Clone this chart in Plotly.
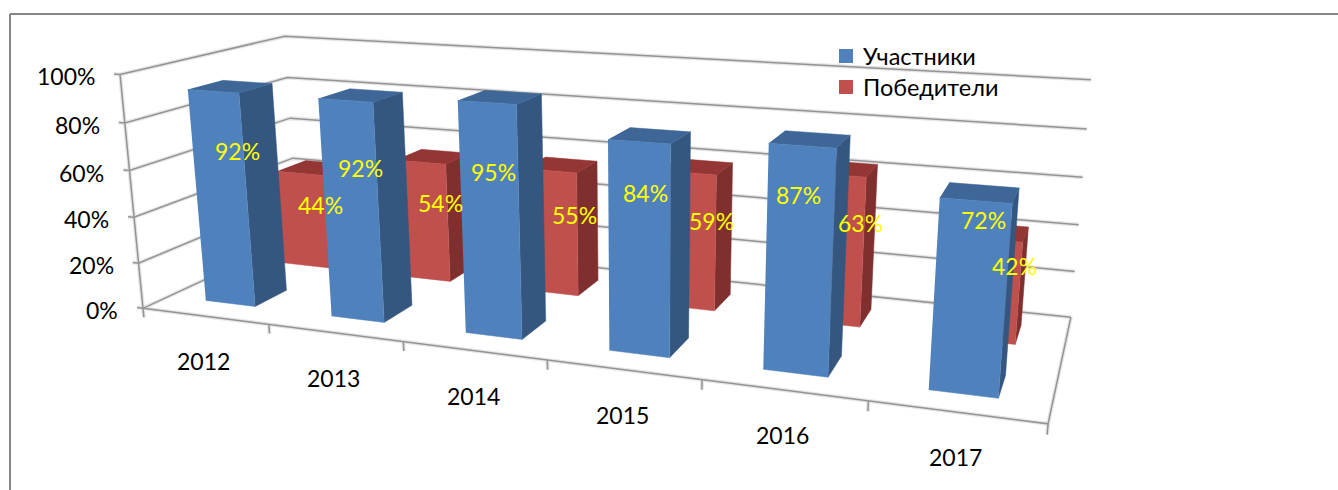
import numpy as np
import plotly.graph_objects as go

# ---- data ----
years = ["2012", "2013", "2014", "2015", "2016", "2017"]
participants = [92, 92, 95, 84, 87, 72]
winners = [44, 54, 55, 59, 63, 42]
y_ticks = [0, 20, 40, 60, 80, 100]
series_names = ["Участники", "Победители"]

# ---- label placement (pixels on the page) ----
participant_label_x = [237, 360, 493, 645, 798, 983]
participant_label_y = [151, 168, 172, 193, 195, 220]
winner_label_x = [320, 440, 574, 711, 860, 1014]
winner_label_y = [205, 203, 215, 221, 223, 266]
legend_swatch_x = 846
legend_text_x = 861
legend_row_y = [56, 87]

# ---- styles ----
W, H = 1338, 490
FONT = "Lato"
BLUE = dict(front="#4F81BD", side="#34567F", top="#3E6797")
RED = dict(front="#C0504D", side="#7F302E", top="#943634")
GRID = "#949494"
SHADOW = "#E6E6E6"
FRAME = "#868686"
BAR_WIDTH = 0.4  # share of a category
BLUE_ROW = (0.15, 0.35)
RED_ROW = (0.65, 0.85)

# ---- perspective camera calibrated on the chart box: (X, Y, Z) -> page pixel ----
calibration = [
    (0, 0, 0, 143, 308), (1, 0, 0, 1048, 423), (1, 1, 0, 1071, 317), (0, 1, 0, 300, 236),
    (0, 0, 1, 122, 75), (0, 1, 1, 285, 37), (1, 1, 1, 1092, 79),
    (0, 0, .2, 138, 263), (0, 0, .4, 133, 217), (0, 0, .6, 130, 169), (0, 0, .8, 124, 123),
    (1, 1, .2, 1074.5, 272), (1, 1, .4, 1078.7, 226), (1, 1, .6, 1082, 177), (1, 1, .8, 1086.5, 129),
    (0, 1, .8, 287, 78), (0, 1, .6, 288, 118), (0, 1, .4, 293, 157),
    (1 / 6, 0, 0, 269, 326), (2 / 6, 0, 0, 403, 343), (5 / 6, 0, 0, 868.6, 400),
]


def solve_camera(rows):
    m = []
    for X, Y, Z, x, y in rows:
        x, y = x / 1000, y / 1000
        m.append([X, Y, Z, 1, 0, 0, 0, 0, -x * X, -x * Y, -x * Z, -x])
        m.append([0, 0, 0, 0, X, Y, Z, 1, -y * X, -y * Y, -y * Z, -y])
    s = np.linalg.svd(np.array(m))[2][-1]
    return s.reshape(3, 4) * np.array([[1000] * 4, [1000] * 4, [1] * 4])


CAM = solve_camera(calibration)


def project(points):
    p = np.c_[np.array(points, float), np.ones(len(points))] @ CAM.T
    return p[:, 0] / p[:, 2], p[:, 1] / p[:, 2]


def polyline(segments, color, width):
    xs, ys = [], []
    for seg in segments:
        px, py = project(seg)
        xs += list(px) + [None]
        ys += list(py) + [None]
    return go.Scatter(x=xs, y=ys, mode="lines", line=dict(color=color, width=width),
                      hoverinfo="skip", showlegend=False)


def face(points, color):
    px, py = project(points)
    return go.Scatter(x=px, y=py, mode="lines", fill="toself", fillcolor=color,
                      line=dict(color=color, width=0.5), hoverinfo="skip", showlegend=False)


def bar(fig, i, value, row, colors):
    n = len(years)
    x0 = (i + 0.5 - BAR_WIDTH / 2) / n
    x1 = (i + 0.5 + BAR_WIDTH / 2) / n
    y0, y1 = row
    z = value / 100
    fig.add_trace(face([(x1, y0, 0), (x1, y1, 0), (x1, y1, z), (x1, y0, z)], colors["side"]))
    fig.add_trace(face([(x0, y0, z), (x1, y0, z), (x1, y1, z), (x0, y1, z)], colors["top"]))
    fig.add_trace(face([(x0, y0, 0), (x1, y0, 0), (x1, y0, z), (x0, y0, z)], colors["front"]))


fig = go.Figure()

# walls, floor, axis and ticks
segments = []
for t in y_ticks:
    z = t / 100
    segments.append([(-0.008, 0, z), (0, 0, z), (0, 1, z), (1, 1, z)])
segments.append([(0, 0, 0), (0, 0, 1)])
segments.append([(0, 0, 0), (1, 0, 0), (1, 1, 0)])
for i in range(len(years) + 1):
    segments.append([(i / len(years), 0, 0), (i / len(years), 0, -0.04)])
fig.add_trace(polyline(segments, SHADOW, 4))
fig.add_trace(polyline(segments, GRID, 1.5))

# bars: far row first, then left to right
for i, v in enumerate(winners):
    bar(fig, i, v, RED_ROW, RED)
for i, v in enumerate(participants):
    bar(fig, i, v, BLUE_ROW, BLUE)

annotations = []

# legend
for name, color, row_y in zip(series_names, (BLUE["front"], RED["front"]), legend_row_y):
    fig.add_trace(go.Scatter(x=[legend_swatch_x], y=[row_y], mode="markers", name=name,
                             marker=dict(symbol="square", size=14, color=color),
                             hoverinfo="name", showlegend=False))
    annotations.append(dict(x=legend_text_x, y=row_y, text=name, xanchor="left", showarrow=False,
                            font=dict(family=FONT, size=23.5, color="black")))

for t in y_ticks:
    px, py = project([(0, 0, t / 100)])
    annotations.append(dict(x=px[0], y=py[0], text=f"{t}%", xanchor="right", xshift=-23, yshift=-2,
                            showarrow=False, font=dict(family=FONT, size=23, color="black")))
for i, yr in enumerate(years):
    px, py = project([((i + 0.5) / len(years), 0, 0)])
    annotations.append(dict(x=px[0], y=py[0], text=yr, yshift=-45, xshift=-1,
                            showarrow=False, font=dict(family=FONT, size=23, color="black")))
for vals, lx, ly in ((participants, participant_label_x, participant_label_y),
                     (winners, winner_label_x, winner_label_y)):
    for v, x, y in zip(vals, lx, ly):
        annotations.append(dict(x=x, y=y, text=f"{v}%", showarrow=False,
                                font=dict(family=FONT, size=23, color="#FFFF00")))

fig.update_layout(
    width=W, height=H, margin=dict(l=0, r=0, t=0, b=0, pad=0),
    paper_bgcolor="white", plot_bgcolor="white", showlegend=False,
    xaxis=dict(range=[0, W], visible=False, fixedrange=True),
    yaxis=dict(range=[H, 0], visible=False, fixedrange=True),
    annotations=annotations,
    shapes=[dict(type="line", xref="x", yref="y", x0=10, x1=10, y0=14, y1=H, line=dict(color=FRAME, width=2)),
            dict(type="line", xref="x", yref="y", x0=10, x1=W, y0=14, y1=14, line=dict(color=FRAME, width=2))],
)
fig.write_html("out.html", config=dict(displayModeBar=False),
               post_script="document.body.style.margin='0';")
